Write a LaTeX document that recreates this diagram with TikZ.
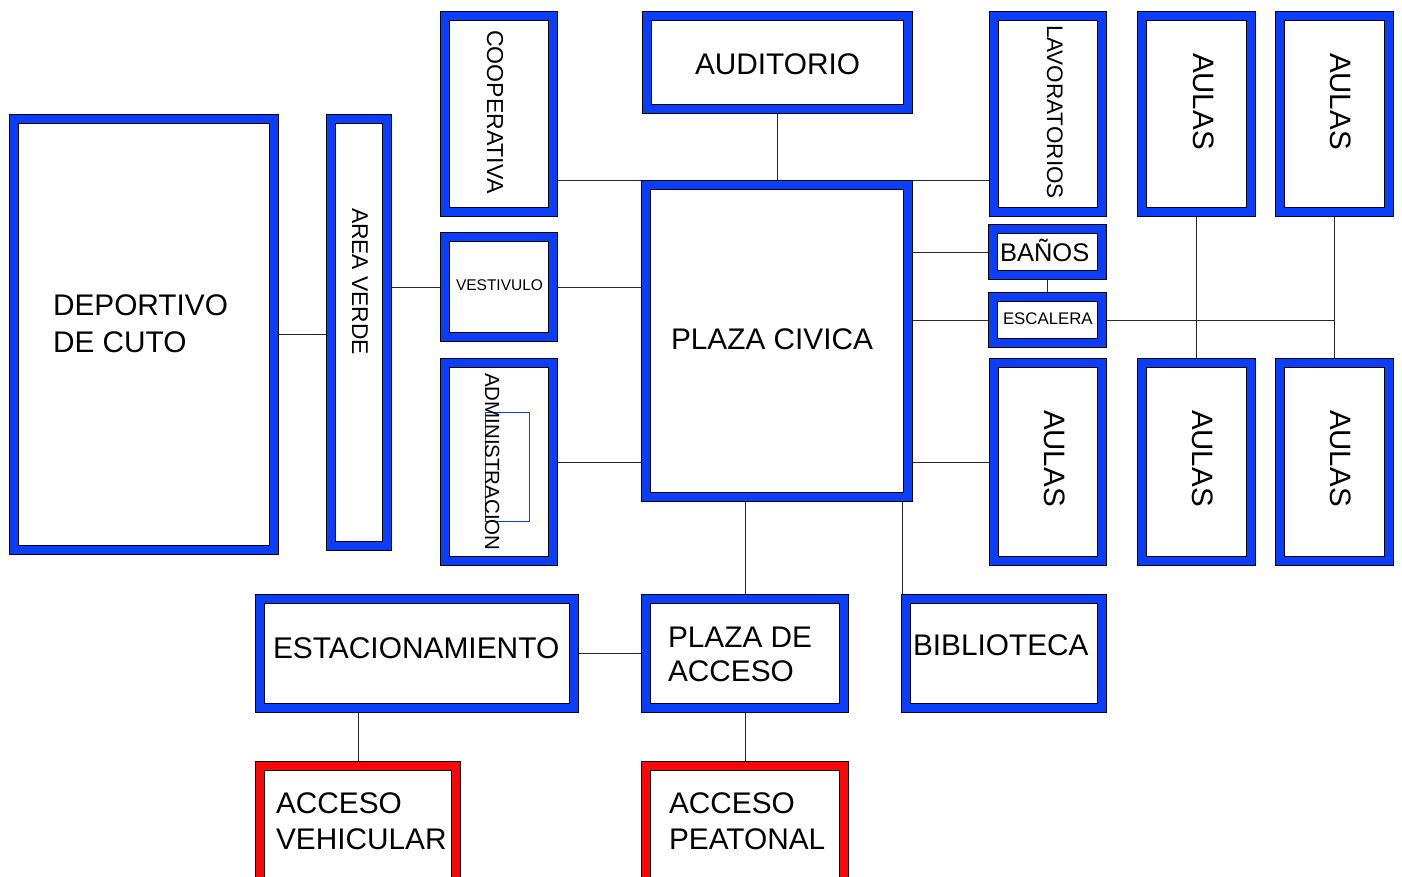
\documentclass[tikz,border=0pt]{standalone}
\usepackage{fontspec}
\setmainfont{Liberation Sans}
\usetikzlibrary{backgrounds}
\definecolor{fb}{RGB}{10,62,250}
\definecolor{fr}{RGB}{250,8,8}
\definecolor{ln}{RGB}{40,40,40}
\newcommand\fsz[2]{\fontsize{#1pt}{#2pt}\selectfont}
\newcommand\bx[6]{\node[frame=#6, minimum width={#4-#2-10}, minimum height={#5-#3-10}] (#1) at ({(#2+#4)/2},{(#3+#5)/2}) {};}
\tikzset{
  frame/.style={rectangle, draw=black, line width=0.7pt, double=#1, double distance=8.6pt, fill=white, inner sep=0pt, outer sep=5pt},
  txt/.style={inner sep=0pt, outer sep=0pt, anchor=base west},
  vtxt/.style={inner sep=0pt, outer sep=0pt, anchor=base west, rotate=-90},
  conn/.style={draw=ln, line width=0.8pt}
}
\begin{document}
\begin{tikzpicture}[x=1pt,y=-1pt]
\useasboundingbox (0,0) rectangle (1402,876);
\clip (0,0) rectangle (1402,876);
% boxes
\bx{dep}{9}{114}{279}{555}{fb}
\bx{av}{326}{114}{392}{551}{fb}
\bx{coop}{440}{11}{558}{217}{fb}
\bx{aud}{642}{11}{913}{114}{fb}
\bx{lav}{989}{11}{1107}{217}{fb}
\bx{au1}{1137}{11}{1256}{217}{fb}
\bx{au2}{1275}{11}{1394}{217}{fb}
\bx{pc}{641}{180}{913}{502}{fb}
\bx{ves}{440}{232}{558}{342}{fb}
\bx{adm}{440}{358}{558}{566}{fb}
\bx{ban}{988}{224}{1107}{280}{fb}
\bx{esc}{988}{292}{1107}{348}{fb}
\bx{au3}{989}{358}{1107}{566}{fb}
\bx{au4}{1137}{358}{1256}{566}{fb}
\bx{au5}{1275}{358}{1394}{566}{fb}
\bx{est}{255}{594}{579}{713}{fb}
\bx{pda}{641}{594}{849}{713}{fb}
\bx{bib}{901}{594}{1107}{713}{fb}
\bx{acv}{255}{761}{461}{887}{fr}
\bx{acp}{641}{761}{849}{887}{fr}
% small rectangle inside administracion
\node[draw=fb, line width=0.8pt, inner sep=0pt, minimum width=44pt, minimum height=109pt] (admr) at (507,466.5) {};
% texts
\node[txt] (tdep) at (53,315) {\fsz{29.8}{37}\begin{tabular}[t]{@{}l@{}}DEPORTIVO\\DE CUTO\end{tabular}};
\node[txt] (taud) at (695,74) {\fsz{29.8}{36}AUDITORIO};
\node[txt] (tpc) at (671,349) {\fsz{29.8}{36}PLAZA CIVICA};
\node[txt] (tves) at (456,290) {\fsz{15.5}{18}VESTIVULO};
\node[txt] (tban) at (1000,261) {\fsz{25.5}{30}BAÑOS};
\node[txt] (tesc) at (1003,324) {\fsz{16.8}{20}ESCALERA};
\node[txt] (test) at (273,658) {\fsz{29.9}{36}ESTACIONAMIENTO};
\node[txt] (tpda) at (668,647) {\fsz{29.8}{34.5}\begin{tabular}[t]{@{}l@{}}PLAZA DE\\ACCESO\end{tabular}};
\node[txt] (tbib) at (913,655) {\fsz{29.8}{36}BIBLIOTECA};
\node[txt] (tacv) at (276,813) {\fsz{29.8}{36}\begin{tabular}[t]{@{}l@{}}ACCESO\\VEHICULAR\end{tabular}};
\node[txt] (tacp) at (669,813) {\fsz{29.8}{36}\begin{tabular}[t]{@{}l@{}}ACCESO\\PEATONAL\end{tabular}};
\node[vtxt] (tcoop) at (487,30) {\fsz{23.1}{27}COOPERATIVA};
\node[vtxt] (tlav) at (1047,25) {\fsz{22.5}{26}LAVORATORIOS};
\node[vtxt] (tav) at (352,208) {\fsz{22.8}{27}AREA VERDE};
\node[vtxt] (tadm) at (485,373) {\fsz{20.5}{24}ADMINISTRACION};
\node[vtxt] (tau1) at (1193,53) {\fsz{29.5}{35}AULAS};
\node[vtxt] (tau2) at (1330,53) {\fsz{29.5}{35}AULAS};
\node[vtxt] (tau3) at (1044,410) {\fsz{29.5}{35}AULAS};
\node[vtxt] (tau4) at (1192,410) {\fsz{29.5}{35}AULAS};
\node[vtxt] (tau5) at (1330,410) {\fsz{29.5}{35}AULAS};
% connectors
\begin{pgfonlayer}{background}
\draw[conn] (dep.east) -- (dep.east -| av.west);
\draw[conn] (ves.west -| av.east) -- (ves.west);
\draw[conn] (ves.east) -- (ves.east -| pc.west);
\draw[conn] (pc.north -| coop.east) -- (pc.north -| lav.west);
\draw[conn] (aud.south) -- (aud.south |- pc.north);
\draw[conn] (adm.east) -- (adm.east -| pc.west);
\draw[conn] (ban.west -| pc.east) -- (ban.west);
\draw[conn] (esc.west -| pc.east) -- (esc.west);
\draw[conn] (esc.east) -- (esc.east -| au2.south);
\draw[conn] (ban.south) -- (esc.north);
\draw[conn] (au3.west -| pc.east) -- (au3.west);
\draw[conn] (au1.south) -- (au4.north);
\draw[conn] (au2.south) -- (au5.north);
\draw[conn] (pda.north |- pc.south) -- (pda.north);
\draw[conn] ([xshift=1pt]bib.north west) -- ([xshift=1pt]bib.north west |- pc.south);
\draw[conn] (est.east) -- (est.east -| pda.west);
\draw[conn] (acv.north) -- (acv.north |- est.south);
\draw[conn] (pda.south) -- (acp.north);
\end{pgfonlayer}
\end{tikzpicture}
\end{document}
